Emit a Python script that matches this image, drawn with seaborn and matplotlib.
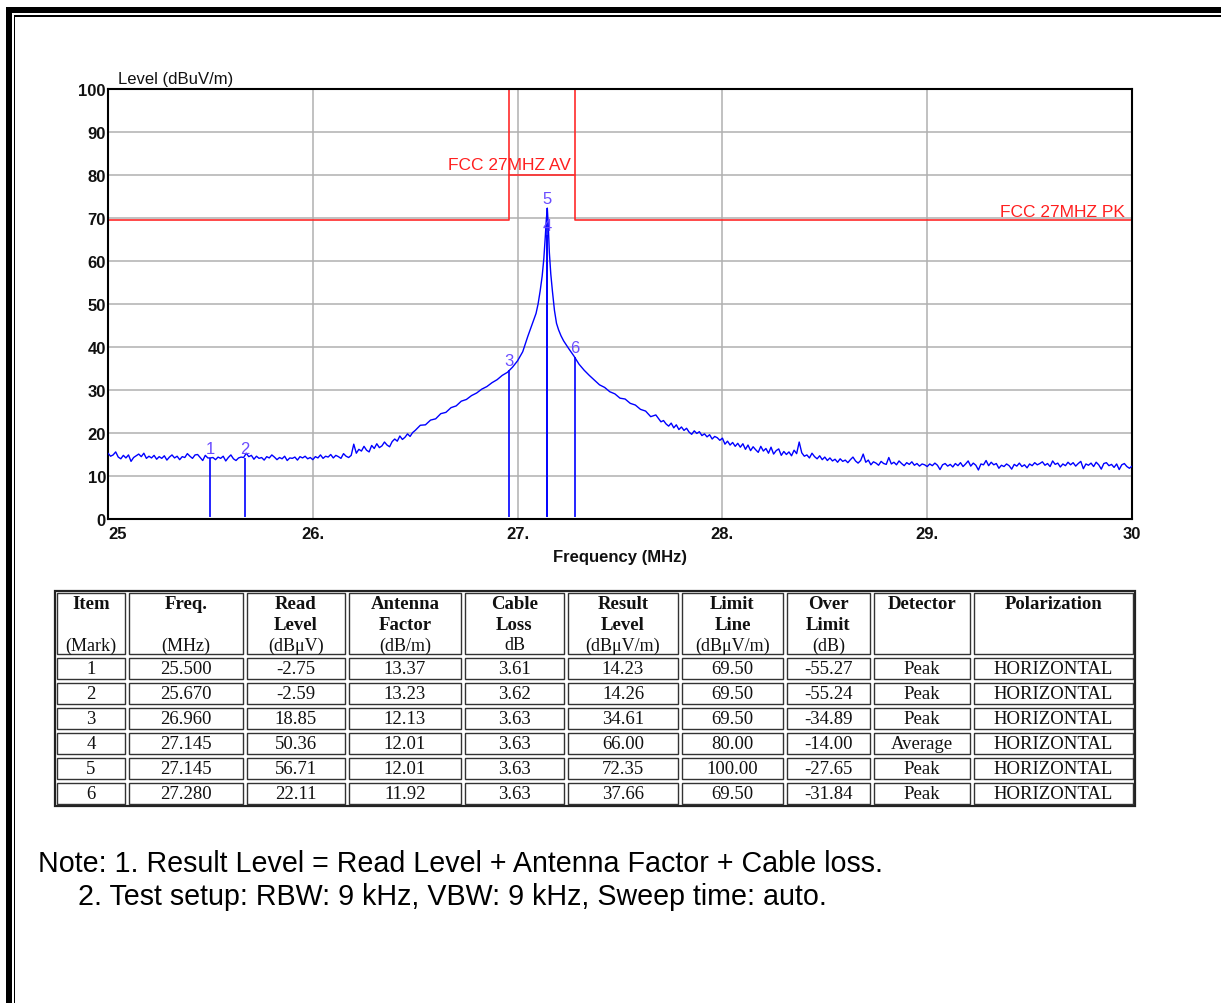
import numpy as np
import pandas as pd
import matplotlib
matplotlib.use("Agg")
import matplotlib.pyplot as plt
import seaborn as sns
from matplotlib.patches import Rectangle

# ---------------- data ----------------
# spectrum trace, in segments of evenly spaced samples
# segment A1: 25.000 .. 26.4875 MHz, step 0.0125
seg_a1_start, seg_a1_step = 25.0, 0.0125
seg_a1_level = [
    15.3, 14.6, 14.9, 15.6, 14.4, 14.0, 14.8, 14.2,
    14.9, 13.4, 14.3, 14.7, 15.1, 14.5, 15.3, 14.1,
    14.6, 14.2, 14.8, 13.9, 14.5, 14.1, 14.7, 13.7,
    14.4, 14.9, 14.2, 14.6, 13.8, 14.5, 14.3, 15.2,
    14.6, 14.1, 14.9, 15.0, 14.3, 13.6, 14.8, 14.2,
    14.2, 14.3, 13.8, 14.4, 14.1, 14.6, 13.5, 14.3,
    14.9, 14.0, 13.6, 14.2, 14.4, 14.3, 15.3, 14.5,
    14.8, 13.9, 14.6, 14.1, 14.3, 13.7, 14.5, 14.2,
    14.9, 14.4, 13.8, 14.3, 14.0, 14.6, 13.6, 14.2,
    14.1, 14.4, 13.7, 14.5, 14.2, 14.6, 14.0, 14.3,
    13.8, 14.5, 14.2, 14.9, 14.1, 14.6, 14.4, 15.0,
    14.2, 14.8, 14.5, 14.1, 15.2, 14.6, 14.3, 14.8,
    17.4, 15.3, 16.2, 15.8, 16.9, 16.0, 15.6, 17.1,
    16.4, 17.5, 16.6, 17.0, 17.9, 17.2, 16.8, 18.0,
    18.6, 18.1, 19.3, 18.5, 19.0, 19.8, 19.2, 20.1,
]
# segment A2: 26.500 .. 27.075 MHz, step 0.025
seg_a2_start, seg_a2_step = 26.5, 0.025
seg_a2_level = [
    20.6, 21.8, 21.9, 23.0, 23.3, 24.5, 24.8, 25.9,
    26.3, 27.4, 27.8, 28.7, 29.3, 30.2, 30.8, 31.7,
    32.4, 33.4, 34.1, 35.3, 36.8, 38.9, 42.5, 45.8,
]
# carrier peak region
peak_freq = [27.090, 27.100, 27.110, 27.120, 27.128, 27.135, 27.140, 27.145,
             27.150, 27.155, 27.162, 27.170, 27.180, 27.190, 27.200, 27.212]
peak_level = [47.8, 50.0, 53.0, 56.5, 60.5, 65.5, 69.5, 72.3,
              68.0, 62.0, 57.0, 53.0, 48.5, 45.5, 44.0, 42.6]
# segment C1: 27.225 .. 27.700 MHz, step 0.025
seg_c1_start, seg_c1_step = 27.225, 0.025
seg_c1_level = [
    41.4, 39.6, 37.9, 36.0, 34.6, 33.4, 32.3, 31.2,
    30.6, 29.6, 29.1, 28.1, 27.9, 26.9, 26.5, 25.5,
    25.1, 23.8, 24.2, 22.6,
]
# segment C2: 27.7125 .. 30.000 MHz, step 0.0125
seg_c2_start, seg_c2_step = 27.7125, 0.0125
seg_c2_level = [
    22.9, 22.1, 21.6, 22.3, 21.2, 21.9, 20.8, 21.4,
    20.6, 21.1, 20.2, 19.7, 20.5, 19.9, 20.3, 19.4,
    19.8, 19.1, 19.6, 18.6, 19.2, 18.9, 18.3, 18.8,
    17.4, 18.1, 17.2, 17.8, 16.9, 17.6, 16.7, 17.5,
    16.2, 17.2, 15.9, 16.8, 16.1, 15.5, 16.9, 15.8,
    16.4, 15.3, 16.7, 15.1, 15.9, 16.3, 14.8, 15.7,
    15.0, 15.6, 14.7, 16.0, 15.2, 17.9, 15.4, 14.6,
    14.9, 14.2, 15.3, 14.5, 14.0, 14.7, 13.8, 14.4,
    13.6, 14.2, 13.5, 13.9, 13.2, 14.0, 13.4, 13.7,
    13.1, 13.8, 14.4, 13.5, 13.0, 13.6, 15.1, 13.2,
    13.7, 12.6, 13.3, 13.0, 12.5, 13.4, 12.9, 12.7,
    14.3, 12.8, 13.2, 12.6, 13.5, 12.9, 12.4, 13.1,
    12.7, 13.3, 12.5, 12.9, 12.3, 12.8, 12.6, 12.2,
    12.8, 12.4, 13.0, 12.5, 11.5, 12.6, 12.9, 12.3,
    12.7, 12.1, 12.9, 12.4, 13.1, 12.2, 12.8, 13.5,
    12.3, 13.0, 12.5, 11.4, 12.8, 12.6, 13.6, 12.4,
    13.2, 12.6, 12.9, 11.8, 12.5, 12.2, 12.8, 12.4,
    11.6, 12.7, 12.3, 13.0, 12.2, 12.6, 11.9, 12.8,
    12.4, 13.1, 12.6, 12.9, 13.3, 12.5, 12.9, 12.2,
    13.5, 12.7, 13.0, 12.1, 12.8, 12.4, 13.2, 12.6,
    13.1, 12.3, 12.9, 13.4, 11.7, 12.8, 12.5, 13.0,
    12.2, 13.2, 12.6, 11.6, 12.9, 13.1, 12.4, 12.7,
    12.0, 12.8, 11.5, 12.6, 12.9, 12.2, 11.8, 12.3,
]

limit_pk_freq = [25.0, 26.96, 26.96, 27.28, 27.28, 30.0]
limit_pk_level = [69.5, 69.5, 100.0, 100.0, 69.5, 69.5]
limit_av_freq = [26.96, 27.28]
limit_av_level = [80.0, 80.0]
limit_pk_name = "FCC 27MHZ PK"
limit_av_name = "FCC 27MHZ AV"

item = [1, 2, 3, 4, 5, 6]
mark_freq = [25.500, 25.670, 26.960, 27.145, 27.145, 27.280]
read_level = [-2.75, -2.59, 18.85, 50.36, 56.71, 22.11]
antenna_factor = [13.37, 13.23, 12.13, 12.01, 12.01, 11.92]
cable_loss = [3.61, 3.62, 3.63, 3.63, 3.63, 3.63]
result_level = [14.23, 14.26, 34.61, 66.00, 72.35, 37.66]
limit_line = [69.50, 69.50, 69.50, 80.00, 100.00, 69.50]
over_limit = [-55.27, -55.24, -34.89, -14.00, -27.65, -31.84]
detector = ["Peak", "Peak", "Peak", "Average", "Peak", "Peak"]
polarization = ["HORIZONTAL", "HORIZONTAL", "HORIZONTAL",
                "HORIZONTAL", "HORIZONTAL", "HORIZONTAL"]

x_ticks = [25, 26, 27, 28, 29, 30]
x_tick_labels = ["25", "26.", "27.", "28.", "29.", "30"]
y_ticks = [0, 10, 20, 30, 40, 50, 60, 70, 80, 90, 100]

head1 = ["Item", "Freq.", "Read", "Antenna", "Cable", "Result", "Limit", "Over", "Detector", "Polarization"]
head2 = ["", "", "Level", "Factor", "Loss", "Level", "Line", "Limit", "", ""]
head3 = ["(Mark)", "(MHz)", "(dB\u03bcV)", "(dB/m)", "dB", "(dB\u03bcV/m)", "(dB\u03bcV/m)", "(dB)", "", ""]

note1 = "Note: 1. Result Level = Read Level + Antenna Factor + Cable loss."
note2 = "2. Test setup: RBW: 9 kHz, VBW: 9 kHz, Sweep time: auto."

# ---------------- style ----------------
sns.set_style("white")
plt.rcParams["font.family"] = ["Liberation Sans", "DejaVu Sans"]

W, H = 1221, 1004
fig = plt.figure(figsize=(W / 100, H / 100), dpi=100)
fig.patch.set_facecolor("white")

ax = fig.add_axes([108 / W, 1 - 520 / H, 1024 / W, 430 / H])

trace_freq = np.concatenate([
    seg_a1_start + seg_a1_step * np.arange(len(seg_a1_level)),
    seg_a2_start + seg_a2_step * np.arange(len(seg_a2_level)),
    np.array(peak_freq),
    seg_c1_start + seg_c1_step * np.arange(len(seg_c1_level)),
    seg_c2_start + seg_c2_step * np.arange(len(seg_c2_level)),
])
trace_level = np.concatenate([seg_a1_level, seg_a2_level, peak_level,
                              seg_c1_level, seg_c2_level])
df = pd.DataFrame({"freq": trace_freq, "level": trace_level})

sns.lineplot(data=df, x="freq", y="level", ax=ax, color="#0000ff",
             linewidth=1.0, estimator=None, sort=True, zorder=3)
sns.lineplot(x=limit_pk_freq, y=limit_pk_level, ax=ax, color="#ff2a2a",
             linewidth=1.2, estimator=None, sort=False, zorder=2)
sns.lineplot(x=limit_av_freq, y=limit_av_level, ax=ax, color="#ff2a2a",
             linewidth=1.2, estimator=None, sort=False, zorder=2)

# markers
ax.vlines(mark_freq, 0.5, result_level, color="#0000ff", linewidth=1.2, zorder=4)
for i, f, lv in zip(item, mark_freq, result_level):
    ax.annotate(str(i), xy=(f, lv), xytext=(0, 3.5), textcoords="offset points",
                ha="center", va="baseline", fontsize=12, color="#6a4cff", zorder=5)

ax.annotate(limit_pk_name, xy=(limit_pk_freq[-1], limit_pk_level[-1]), xytext=(-5, 3),
            textcoords="offset points", ha="right", va="baseline",
            fontsize=12.5, color="#ff2020")
ax.annotate(limit_av_name, xy=(limit_av_freq[-1], limit_av_level[-1]), xytext=(-3, 4.5),
            textcoords="offset points", ha="right", va="baseline",
            fontsize=12.5, color="#ff2020")

ax.set_xlim(25, 30)
ax.set_ylim(0, 100)
ax.set_xticks(x_ticks)
ax.set_xticklabels(x_tick_labels, fontsize=12, fontweight="bold")
ax.set_yticks(y_ticks)
ax.set_yticklabels([str(v) for v in y_ticks], fontsize=12, fontweight="bold")
ax.get_xticklabels()[0].set_ha("left")
ax.tick_params(axis="both", length=0, colors="#111111")
ax.tick_params(axis="y", pad=1.5)
ax.tick_params(axis="x", pad=5)
ax.grid(True, color="#b0b0b0", linewidth=1.1)
ax.set_axisbelow(True)
for s in ax.spines.values():
    s.set_visible(True)
    s.set_color("#000000")
    s.set_linewidth(1.5)
ax.set_xlabel("")
ax.set_ylabel("")
ax.annotate("Level (dBuV/m)", xy=(0, 1), xycoords="axes fraction", xytext=(7.5, 4.5),
            textcoords="offset points", ha="left", va="baseline", fontsize=12, color="#111111")
ax.annotate("Frequency (MHz)", xy=(0.5, 0), xycoords="axes fraction", xytext=(0, -30),
            textcoords="offset points", ha="center", va="baseline", fontsize=12,
            fontweight="bold", color="#111111")

# ---------------- overlay (frame, table, notes) ----------------
ov = fig.add_axes([0, 0, 1, 1], zorder=-1)
ov.set_xlim(0, W)
ov.set_ylim(H, 0)
ov.axis("off")
ov.patch.set_visible(False)

# page frame
ov.add_patch(Rectangle((6, 8), 5.5, H, color="black", lw=0))
ov.add_patch(Rectangle((13.5, 16), 1.8, H, color="black", lw=0))
ov.add_patch(Rectangle((6, 8), W, 6, color="black", lw=0))
ov.add_patch(Rectangle((13.5, 16), W, 1.8, color="black", lw=0))

# table
col_edges = [55, 127, 245, 347, 463, 566, 680, 785, 872, 972, 1135]
row_edges = [592, 657, 682, 707, 732, 757, 782, 807]
ov.add_patch(Rectangle((col_edges[0], row_edges[0]), col_edges[-1] - col_edges[0],
                       row_edges[-1] - row_edges[0], fill=False, ec="#222222", lw=1.6))
for r in range(len(row_edges) - 1):
    for c in range(len(col_edges) - 1):
        x0, x1 = col_edges[c], col_edges[c + 1]
        y0, y1 = row_edges[r], row_edges[r + 1]
        ov.add_patch(Rectangle((x0 + 2, y0 + 2), x1 - x0 - 4, y1 - y0 - 4,
                               fill=False, ec="#333333", lw=1.0))

serif = ["Liberation Serif", "DejaVu Serif"]
centers = [(col_edges[i] + col_edges[i + 1]) / 2 for i in range(len(col_edges) - 1)]
for c, xc in enumerate(centers):
    ov.text(xc, 605, head1[c], ha="center", va="center", fontsize=13.5,
            fontweight="bold", family=serif, color="#111111")
    if head2[c]:
        ov.text(xc, 626, head2[c], ha="center", va="center", fontsize=13.5,
                fontweight="bold", family=serif, color="#111111")
    if head3[c]:
        ov.text(xc, 646, head3[c], ha="center", va="center", fontsize=13,
                family=serif, color="#111111")

rows = []
for k in range(len(item)):
    rows.append([str(item[k]), f"{mark_freq[k]:.3f}", f"{read_level[k]:.2f}",
                 f"{antenna_factor[k]:.2f}", f"{cable_loss[k]:.2f}",
                 f"{result_level[k]:.2f}", f"{limit_line[k]:.2f}",
                 f"{over_limit[k]:.2f}", detector[k], polarization[k]])
for r, row in enumerate(rows):
    yc = (row_edges[r + 1] + row_edges[r + 2]) / 2
    for c, txt in enumerate(row):
        ov.text(centers[c], yc, txt, ha="center", va="center", fontsize=13.5,
                family=serif, color="#111111")

# notes
ov.text(38, 872, note1, ha="left", va="baseline", fontsize=20.6, color="#000000")
ov.text(78, 905, note2, ha="left", va="baseline", fontsize=20.6, color="#000000")

fig.savefig("out.png", dpi=100, facecolor="white")
